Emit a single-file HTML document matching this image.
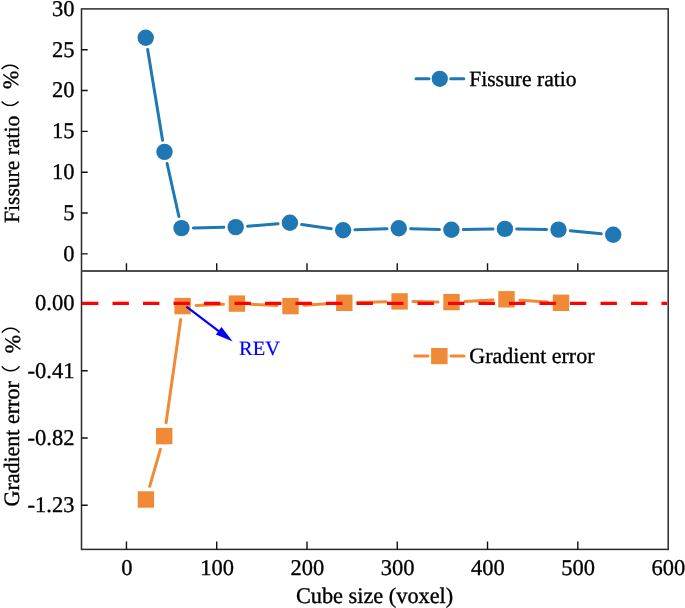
<!DOCTYPE html>
<html><head><meta charset="utf-8"><style>
html,body{margin:0;padding:0;background:#fff;overflow:hidden}
svg{display:block;will-change:transform}
text{font-family:"Liberation Serif",serif;text-rendering:geometricPrecision;stroke:currentColor;stroke-width:0.35px}
</style></head><body>
<svg width="685" height="608" viewBox="0 0 685 608">
<rect width="685" height="608" fill="#fff"/>
<g fill="none" stroke="#2a2a2a" stroke-width="1.5">
<rect x="81.5" y="8.9" width="586.70" height="540.50"/>
<line x1="81.5" y1="271.0" x2="668.2" y2="271.0" stroke="#4d4d4d" stroke-width="1.9"/>
</g>
<path d="M81.5 253.90h6.2 M81.5 213.06h6.2 M81.5 172.23h6.2 M81.5 131.40h6.2 M81.5 90.56h6.2 M81.5 49.73h6.2 M81.5 370.80h6.2 M81.5 438.00h6.2 M81.5 505.20h6.2 M126.45 270.5v-7.2 M126.45 549.4v-8 M216.72 270.5v-7.2 M216.72 549.4v-8 M306.99 270.5v-7.2 M306.99 549.4v-8 M397.26 270.5v-7.2 M397.26 549.4v-8 M487.53 270.5v-7.2 M487.53 549.4v-8 M577.80 270.5v-7.2 M577.80 549.4v-8" stroke="#111" stroke-width="1.4" fill="none"/>
<g font-family="Liberation Serif" font-size="22.5" fill="#000">
<text x="74.4" y="260.70" text-anchor="end">0</text>
<text x="74.4" y="219.87" text-anchor="end">5</text>
<text x="74.4" y="179.03" text-anchor="end">10</text>
<text x="74.4" y="138.20" text-anchor="end">15</text>
<text x="74.4" y="97.36" text-anchor="end">20</text>
<text x="74.4" y="56.53" text-anchor="end">25</text>
<text x="74.4" y="15.70" text-anchor="end">30</text>
<text x="74.4" y="310.40" text-anchor="end">0.00</text>
<text x="74.4" y="377.60" text-anchor="end">-0.41</text>
<text x="74.4" y="444.80" text-anchor="end">-0.82</text>
<text x="74.4" y="512.00" text-anchor="end">-1.23</text>
<text x="126.75" y="575.3" text-anchor="middle">0</text>
<text x="217.02" y="575.3" text-anchor="middle">100</text>
<text x="307.29" y="575.3" text-anchor="middle">200</text>
<text x="397.56" y="575.3" text-anchor="middle">300</text>
<text x="487.83" y="575.3" text-anchor="middle">400</text>
<text x="578.10" y="575.3" text-anchor="middle">500</text>
<text x="668.37" y="575.3" text-anchor="middle">600</text>
<text x="374.6" y="602.6" text-anchor="middle" font-size="22.3">Cube size (voxel)</text>
</g>
<g font-family="Liberation Serif" font-size="22" fill="#000">
<text transform="translate(18.7 223) rotate(-90)" font-size="21.6">Fissure ratio</text>
<text transform="translate(18.3 88.9) rotate(-90)">%</text>
<text transform="translate(19.4 506.5) rotate(-90)">Gradient error</text>
<text transform="translate(19.5 353.3) rotate(-90)">%</text>
</g>
<path d="M1.6 101.5 A11.1 11.1 0 0 0 18.5 101.5" fill="none" stroke="#000" stroke-width="1.4"/>
<path d="M1.6 69.1 A11.1 11.1 0 0 1 18.5 69.1" fill="none" stroke="#000" stroke-width="1.4"/>
<path d="M1.8 366.4 A11.1 11.1 0 0 0 19.5 366.4" fill="none" stroke="#000" stroke-width="1.4"/>
<path d="M1.8 332.7 A11.1 11.1 0 0 1 19.5 332.7" fill="none" stroke="#000" stroke-width="1.4"/>
<line x1="147.63" y1="49.44" x2="162.57" y2="140.16" stroke="#1f77b4" stroke-width="3.0" stroke-linecap="round"/>
<line x1="167.09" y1="163.51" x2="178.91" y2="216.49" stroke="#1f77b4" stroke-width="3.0" stroke-linecap="round"/>
<line x1="193.40" y1="227.88" x2="223.80" y2="227.32" stroke="#1f77b4" stroke-width="3.0" stroke-linecap="round"/>
<line x1="247.56" y1="226.16" x2="278.04" y2="223.74" stroke="#1f77b4" stroke-width="3.0" stroke-linecap="round"/>
<line x1="301.68" y1="224.46" x2="331.32" y2="228.64" stroke="#1f77b4" stroke-width="3.0" stroke-linecap="round"/>
<line x1="354.99" y1="229.87" x2="386.91" y2="228.73" stroke="#1f77b4" stroke-width="3.0" stroke-linecap="round"/>
<line x1="410.70" y1="228.64" x2="439.50" y2="229.46" stroke="#1f77b4" stroke-width="3.0" stroke-linecap="round"/>
<line x1="463.30" y1="229.60" x2="493.00" y2="229.10" stroke="#1f77b4" stroke-width="3.0" stroke-linecap="round"/>
<line x1="516.80" y1="229.06" x2="546.60" y2="229.44" stroke="#1f77b4" stroke-width="3.0" stroke-linecap="round"/>
<line x1="570.35" y1="230.73" x2="601.35" y2="233.67" stroke="#1f77b4" stroke-width="3.0" stroke-linecap="round"/>
<circle cx="145.7" cy="37.7" r="8.2" fill="#1f77b4"/>
<circle cx="164.5" cy="151.9" r="8.2" fill="#1f77b4"/>
<circle cx="181.5" cy="228.1" r="8.2" fill="#1f77b4"/>
<circle cx="235.7" cy="227.1" r="8.2" fill="#1f77b4"/>
<circle cx="289.9" cy="222.8" r="8.2" fill="#1f77b4"/>
<circle cx="343.1" cy="230.3" r="8.2" fill="#1f77b4"/>
<circle cx="398.8" cy="228.3" r="8.2" fill="#1f77b4"/>
<circle cx="451.4" cy="229.8" r="8.2" fill="#1f77b4"/>
<circle cx="504.9" cy="228.9" r="8.2" fill="#1f77b4"/>
<circle cx="558.5" cy="229.6" r="8.2" fill="#1f77b4"/>
<circle cx="613.2" cy="234.8" r="8.2" fill="#1f77b4"/>
<line x1="149.71" y1="486.30" x2="160.39" y2="449.30" stroke="#f08a36" stroke-width="3.0" stroke-linecap="round"/>
<line x1="166.09" y1="422.75" x2="180.71" y2="319.45" stroke="#f08a36" stroke-width="3.0" stroke-linecap="round"/>
<line x1="195.99" y1="305.48" x2="223.51" y2="304.22" stroke="#f08a36" stroke-width="3.0" stroke-linecap="round"/>
<line x1="250.29" y1="304.22" x2="277.11" y2="305.48" stroke="#f08a36" stroke-width="3.0" stroke-linecap="round"/>
<line x1="303.89" y1="305.28" x2="330.91" y2="303.62" stroke="#f08a36" stroke-width="3.0" stroke-linecap="round"/>
<line x1="357.70" y1="302.46" x2="386.20" y2="301.74" stroke="#f08a36" stroke-width="3.0" stroke-linecap="round"/>
<line x1="413.00" y1="301.58" x2="438.10" y2="301.92" stroke="#f08a36" stroke-width="3.0" stroke-linecap="round"/>
<line x1="464.89" y1="301.42" x2="493.11" y2="299.98" stroke="#f08a36" stroke-width="3.0" stroke-linecap="round"/>
<line x1="519.89" y1="300.16" x2="547.61" y2="301.94" stroke="#f08a36" stroke-width="3.0" stroke-linecap="round"/>
<rect x="137.70" y="491.30" width="16.4" height="16.4" fill="#f08a36"/>
<rect x="156.00" y="427.90" width="16.4" height="16.4" fill="#f08a36"/>
<rect x="174.40" y="297.90" width="16.4" height="16.4" fill="#f08a36"/>
<rect x="228.70" y="295.40" width="16.4" height="16.4" fill="#f08a36"/>
<rect x="282.30" y="297.90" width="16.4" height="16.4" fill="#f08a36"/>
<rect x="336.10" y="294.60" width="16.4" height="16.4" fill="#f08a36"/>
<rect x="391.40" y="293.20" width="16.4" height="16.4" fill="#f08a36"/>
<rect x="443.30" y="293.90" width="16.4" height="16.4" fill="#f08a36"/>
<rect x="498.30" y="291.10" width="16.4" height="16.4" fill="#f08a36"/>
<rect x="552.80" y="294.60" width="16.4" height="16.4" fill="#f08a36"/>
<line x1="82.0" y1="303.4" x2="667.2" y2="303.4" stroke="#ff0000" stroke-width="3.2" stroke-dasharray="16.4 14.1"/>
<line x1="416" y1="78.7" x2="429" y2="78.7" stroke="#1f77b4" stroke-width="3" stroke-linecap="round"/>
<line x1="450.7" y1="78.7" x2="463.8" y2="78.7" stroke="#1f77b4" stroke-width="3" stroke-linecap="round"/>
<circle cx="439.8" cy="78.8" r="8.1" fill="#1f77b4"/>
<text x="469.2" y="85.6" font-family="Liberation Serif" font-size="21.6">Fissure ratio</text>
<line x1="414.8" y1="356.1" x2="427.9" y2="356.1" stroke="#f08a36" stroke-width="3" stroke-linecap="round"/>
<line x1="451.1" y1="356.1" x2="464.1" y2="356.1" stroke="#f08a36" stroke-width="3" stroke-linecap="round"/>
<rect x="431.1" y="348" width="16.5" height="16.2" fill="#f08a36"/>
<text x="469.3" y="363.3" font-family="Liberation Serif" font-size="22">Gradient error</text>
<line x1="186.4" y1="306.7" x2="219" y2="331.3" stroke="#0000ff" stroke-width="2.2"/>
<path d="M232.7 341.6 L221.5 327 L215.9 334.6 Z" fill="#0000ff"/>
<text x="239.1" y="355" font-family="Liberation Serif" font-size="20.4" fill="#0000ff" style="color:#0000ff;stroke-width:0.2px">REV</text>
</svg>
</body></html>
